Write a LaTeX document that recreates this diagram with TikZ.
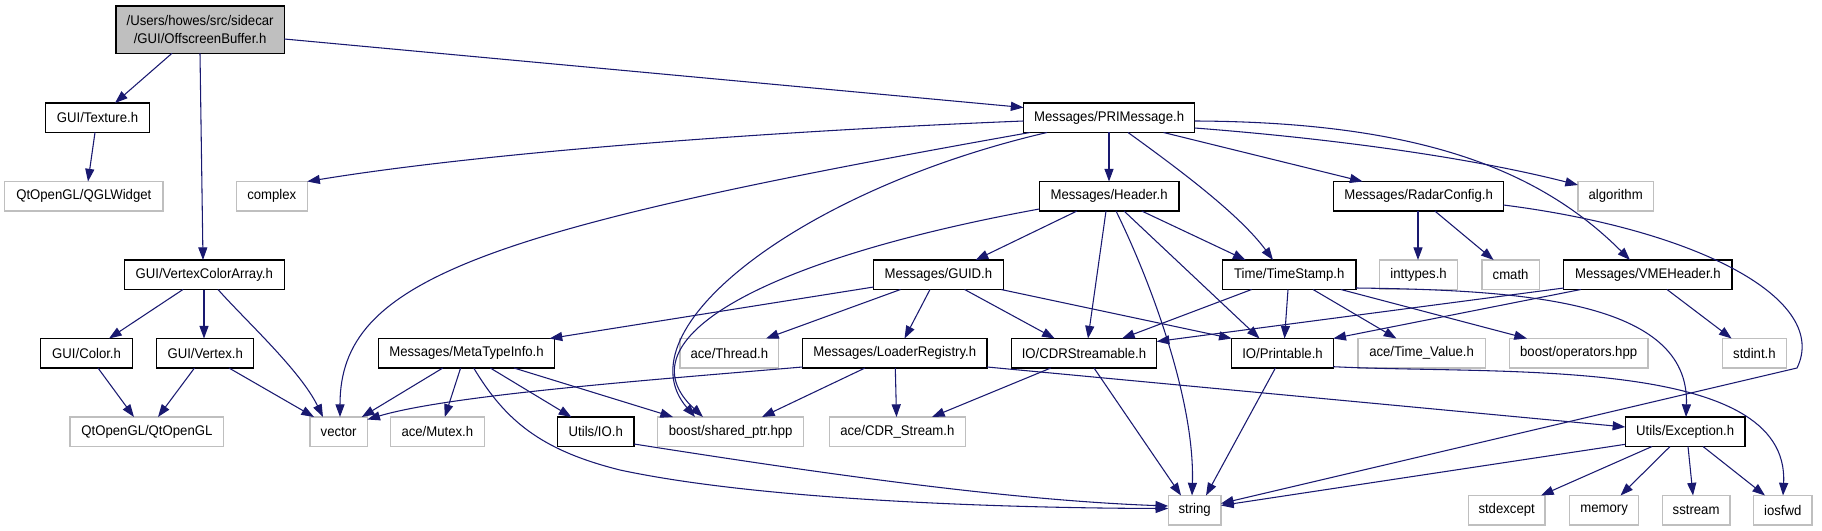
\documentclass[tikz,border=0pt]{standalone}
\usepackage{fontspec}
\setmainfont{Liberation Sans}[FakeStretch=0.94]
\usetikzlibrary{arrows.meta}
\definecolor{edgec}{HTML}{191970}
\definecolor{extgray}{HTML}{BFBFBF}
\definecolor{mainfill}{HTML}{BFBFBF}
\newcommand\gvnode[7]{\node[#6, minimum width={(#4-#2)*0.75pt}, minimum height={(#5-#3)*0.75pt}] (#1) at ({(#2+#4)/2},{(#3+#5)/2}) {#7};}
\begin{document}
\begin{tikzpicture}[x=0.75pt,y=-0.75pt,
  base/.style={rectangle, inner sep=0pt, outer sep=0pt, font=\fontsize{10.5pt}{13.3pt}\selectfont, fill=white, line width=1pt},
  docbox/.style={base, draw=black},
  extbox/.style={base, draw=extgray},
  mainbox/.style={base, draw=black, fill=mainfill, align=center},
  e/.style={draw=edgec, line width=0.8pt, -{Triangle[length=9.5pt,width=6.8pt]}}]
\useasboundingbox (0,0) rectangle (1822,531);
% row 1
\gvnode{OB}{115.9}{6}{284.3}{53.3}{mainbox}{/Users/howes/src/sidecar\\/GUI/OffscreenBuffer.h}
% row 2
\gvnode{Tex}{45.5}{103}{149.5}{132.5}{docbox}{GUI/Texture.h}
\gvnode{PM}{1023.5}{103}{1194.7}{132.5}{docbox}{Messages/PRIMessage.h}
% row 3
\gvnode{QGL}{4.7}{181.5}{162.9}{211}{extbox}{QtOpenGL/QGLWidget}
\gvnode{cplx}{236.4}{181.5}{307.2}{211}{extbox}{complex}
\gvnode{H}{1039.3}{181.5}{1178.9}{211}{docbox}{Messages/Header.h}
\gvnode{RC}{1333.7}{181.5}{1503.5}{211}{docbox}{Messages/RadarConfig.h}
\gvnode{alg}{1578}{181.5}{1653.4}{211}{extbox}{algorithm}
% row 4
\gvnode{VCA}{124.2}{260}{284.3}{289.5}{docbox}{GUI/VertexColorArray.h}
\gvnode{G}{873.6}{260}{1003.3}{289.5}{docbox}{Messages/GUID.h}
\gvnode{TS}{1222.6}{260}{1355.9}{289.5}{docbox}{Time/TimeStamp.h}
\gvnode{inty}{1379.7}{260}{1457.5}{289.5}{extbox}{inttypes.h}
\gvnode{cm}{1482}{260}{1539.2}{289.5}{extbox}{cmath}
\gvnode{VH}{1563.8}{260}{1732}{289.5}{docbox}{Messages/VMEHeader.h}
% row 5
\gvnode{Col}{40.7}{338.5}{132.5}{368}{docbox}{GUI/Color.h}
\gvnode{Vtx}{156.6}{338.5}{253.8}{368}{docbox}{GUI/Vertex.h}
\gvnode{MTI}{378.4}{338.5}{554.7}{368}{docbox}{Messages/MetaTypeInfo.h}
\gvnode{Thr}{679.9}{338.5}{778.7}{368}{extbox}{ace/Thread.h}
\gvnode{LR}{802.4}{338.5}{987.1}{368}{docbox}{Messages/LoaderRegistry.h}
\gvnode{CDR}{1011.2}{338.5}{1156.7}{368}{docbox}{IO/CDRStreamable.h}
\gvnode{P}{1231.7}{338.5}{1333.3}{368}{docbox}{IO/Printable.h}
\gvnode{TV}{1357.9}{338.5}{1485.2}{368}{extbox}{ace/Time\_Value.h}
\gvnode{ops}{1509.4}{338.5}{1647.9}{368}{extbox}{boost/operators.hpp}
\gvnode{sti}{1722.5}{338.5}{1786.3}{368}{extbox}{stdint.h}
% row 6
\gvnode{QtGL}{70}{417}{223.8}{446.5}{extbox}{QtOpenGL/QtOpenGL}
\gvnode{vec}{310}{417}{367.3}{446.5}{extbox}{vector}
\gvnode{mut}{390.3}{417}{484.4}{446.5}{extbox}{ace/Mutex.h}
\gvnode{IO}{557.5}{417}{634}{446.5}{docbox}{Utils/IO.h}
\gvnode{sp}{657.7}{417}{803.6}{446.5}{extbox}{boost/shared\_ptr.hpp}
\gvnode{cds}{829.3}{417}{965.3}{446.5}{extbox}{ace/CDR\_Stream.h}
\gvnode{Exc}{1625.3}{417}{1745}{446.5}{docbox}{Utils/Exception.h}
% row 7
\gvnode{str}{1168.2}{495.5}{1221}{525}{extbox}{string}
\gvnode{stx}{1468.2}{495.5}{1545.1}{525}{extbox}{stdexcept}
\gvnode{mem}{1569.7}{495.5}{1638.4}{525}{extbox}{memory}
\gvnode{sst}{1662.2}{495.5}{1730}{525}{extbox}{sstream}
\gvnode{ios}{1753.4}{495.5}{1812.1}{525}{extbox}{iosfwd}
\coordinate (rcbend) at (1797,368);
\coordinate (mtibend) at (620,470);
% edges
\draw[e] (172,0 |- OB.south) -- (115,0 |- Tex.north);
\draw[e] (200,0 |- OB.south) -- (203,0 |- VCA.north);
\draw[e] (OB.east |- 0,39) -- (PM.west |- 0,107.5);
\draw[e] (95,0 |- Tex.south) -- (88,0 |- QGL.north);
\draw[e] (183,0 |- VCA.south) -- (109,0 |- Col.north);
\draw[e] (204,0 |- VCA.south) -- (204,0 |- Vtx.north);
\draw[e] (218,0 |- VCA.south) .. controls (245,320) and (300,370) .. (323,0 |- vec.north);
\draw[e] (98,0 |- Col.south) -- (134,0 |- QtGL.north);
\draw[e] (194.5,0 |- Vtx.south) -- (158,0 |- QtGL.north);
\draw[e] (229,0 |- Vtx.south) -- (314,0 |- vec.north);
\draw[e] (PM.west |- 0,121) .. controls (800,130) and (500,150) .. (cplx.north east);
\draw[e] (1030,0 |- PM.south) .. controls (480,230) and (340,280) .. (340,0 |- vec.north);
\draw[e] (1047,0 |- PM.south) .. controls (800,190) and (620,330) .. (695,0 |- sp.north);
\draw[e] (1109,0 |- PM.south) -- (1109,0 |- H.north);
\draw[e] (1128,0 |- PM.south) .. controls (1180,170) and (1240,215) .. (1273,0 |- TS.north);
\draw[e] (1163.5,0 |- PM.south) -- (1362.6,0 |- RC.north);
\draw[e] (PM.east |- 0,128) .. controls (1350,140) and (1480,160) .. (alg.west |- 0,185);
\draw[e] (PM.east |- 0,121) .. controls (1420,122) and (1540,170) .. (1630,0 |- VH.north);
\draw[e] (1077,0 |- H.south) -- (975.6,0 |- G.north);
\draw[e] (H.west |- 0,209) .. controls (760,260) and (620,340) .. (703,0 |- sp.north);
\draw[e] (1106,0 |- H.south) -- (1088,0 |- CDR.north);
\draw[e] (1116,0 |- H.south) .. controls (1150,280) and (1195,400) .. (1192,0 |- str.north);
\draw[e] (1124,0 |- H.south) -- (1259.5,0 |- P.north);
\draw[e] (1141.7,0 |- H.south) -- (1245.6,0 |- TS.north);
\draw[e] (G.west |- 0,287) -- (549.6,0 |- MTI.north);
\draw[e] (900.5,0 |- G.south) -- (766,0 |- Thr.north);
\draw[e] (930,0 |- G.south) -- (904.5,0 |- LR.north);
\draw[e] (964.6,0 |- G.south) -- (1054.7,0 |- CDR.north);
\draw[e] (1001,0 |- G.south) -- (P.north west);
\draw[e] (1251.6,0 |- TS.south) -- (1122,0 |- CDR.north);
\draw[e] (1288,0 |- TS.south) -- (1284.5,0 |- P.north);
\draw[e] (1313,0 |- TS.south) -- (1396.4,0 |- TV.north);
\draw[e] (1340.8,0 |- TS.south) -- (1527,0 |- ops.north);
\draw[e] (TS.east |- 0,288) .. controls (1520,290) and (1690,300) .. (1686,0 |- Exc.north);
\draw[e] (1418,0 |- RC.south) -- (1418,0 |- inty.north);
\draw[e] (1434.8,0 |- RC.south) -- (1493.6,0 |- cm.north);
\draw[e] (RC.east |- 0,205) .. controls (1700,230) and (1830,300) .. (rcbend) -- (str.east |- 0,503.5);
\draw[e] (VH.west |- 0,288) -- (CDR.east |- 0,341.5);
\draw[e] (1580.8,0 |- VH.south) -- (P.north east);
\draw[e] (1667,0 |- VH.south) -- (1731.6,0 |- sti.north);
\draw[e] (442.8,0 |- MTI.south) -- (361.8,0 |- vec.north);
\draw[e] (460.6,0 |- MTI.south) -- (444.8,0 |- mut.north);
\draw[e] (473.7,0 |- MTI.south) .. controls (505,420) and (540,450) .. (mtibend) .. controls (760,500) and (1000,508) .. (str.west |- 0,508.5);
\draw[e] (490.3,0 |- MTI.south) -- (571.4,0 |- IO.north);
\draw[e] (514,0 |- MTI.south) -- (673,0 |- sp.north);
\draw[e] (LR.west |- 0,367) .. controls (650,380) and (450,395) .. (vec.east |- 0,419.5);
\draw[e] (865,0 |- LR.south) -- (762,0 |- sp.north);
\draw[e] (895.3,0 |- LR.south) -- (896.5,0 |- cds.north);
\draw[e] (LR.east |- 0,367) -- (Exc.west |- 0,427);
\draw[e] (1050.8,0 |- CDR.south) -- (932,0 |- cds.north);
\draw[e] (1094,0 |- CDR.south) -- (1181,0 |- str.north);
\draw[e] (1275.4,0 |- P.south) -- (1206,0 |- str.north);
\draw[e] (P.east |- 0,366.7) .. controls (1500,375) and (1790,355) .. (1783,0 |- ios.north);
\draw[e] (IO.east |- 0,444) .. controls (800,470) and (1000,500) .. (str.west |- 0,506);
\draw[e] (Exc.west |- 0,444.3) -- (str.east |- 0,505.5);
\draw[e] (1652,0 |- Exc.south) -- (1541,0 |- stx.north);
\draw[e] (1670,0 |- Exc.south) -- (1620.5,0 |- mem.north);
\draw[e] (1688,0 |- Exc.south) -- (1693,0 |- sst.north);
\draw[e] (1703,0 |- Exc.south) -- (1765,0 |- ios.north);
\end{tikzpicture}
\end{document}
